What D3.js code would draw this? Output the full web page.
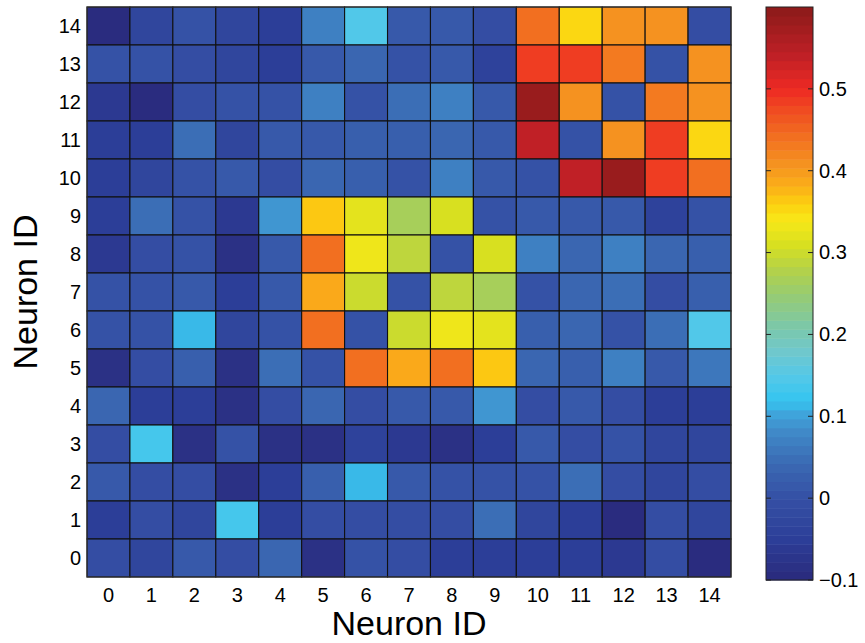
<!DOCTYPE html>
<html><head><meta charset="utf-8">
<script src="https://cdn.jsdelivr.net/npm/d3@7/dist/d3.min.js"></script>
<style>body{margin:0;background:#fff}svg{display:block}text{font-family:"Liberation Sans",Arial,sans-serif;fill:#000}</style>
</head><body><svg id="c" width="865" height="643"></svg>
<script>
const neuronIds = [0,1,2,3,4,5,6,7,8,9,10,11,12,13,14];
// rows listed from neuron 14 (top) down to neuron 0 (bottom); columns 0..14
const row14 = [-0.09,-0.03,0.00,-0.03,-0.05,0.07,0.15,0.01,0.02,-0.01,0.44,0.35,0.41,0.41,-0.01];
const row13 = [0.00,0.00,-0.01,-0.03,-0.05,0.01,0.04,0.00,0.02,-0.04,0.49,0.49,0.43,0.00,0.41];
const row12 = [-0.06,-0.09,-0.01,0.00,0.00,0.07,0.00,0.05,0.07,0.01,0.58,0.41,0.00,0.43,0.41];
const row11 = [-0.05,-0.05,0.05,-0.03,0.01,0.02,0.03,0.03,0.04,0.01,0.54,0.00,0.41,0.49,0.35];
const row10 = [-0.05,-0.03,0.00,0.01,-0.01,0.04,0.03,0.00,0.07,0.01,0.00,0.54,0.58,0.49,0.44];
const row9  = [-0.05,0.05,0.00,-0.06,0.09,0.37,0.32,0.27,0.31,0.00,0.01,0.01,0.01,-0.04,0.00];
const row8  = [-0.06,-0.01,0.00,-0.08,0.01,0.44,0.33,0.29,0.00,0.31,0.07,0.04,0.07,0.04,0.03];
const row7  = [0.00,0.00,0.01,-0.05,0.01,0.39,0.30,0.00,0.29,0.27,0.00,0.04,0.05,-0.01,0.03];
const row6  = [0.00,0.00,0.11,-0.03,0.00,0.44,0.00,0.30,0.33,0.32,0.03,0.04,0.00,0.05,0.15];
const row5  = [-0.08,-0.01,0.03,-0.08,0.05,0.00,0.44,0.39,0.44,0.37,0.04,0.03,0.07,0.02,0.06];
const row4  = [0.04,-0.05,-0.05,-0.08,-0.01,0.04,-0.01,0.01,0.02,0.09,-0.01,0.01,-0.01,-0.05,-0.05];
const row3  = [-0.01,0.13,-0.08,0.00,-0.08,-0.08,-0.04,-0.06,-0.08,-0.05,0.01,-0.01,0.00,-0.03,-0.03];
const row2  = [0.01,-0.01,-0.01,-0.08,-0.05,0.03,0.11,0.01,0.00,0.00,0.00,0.05,-0.01,-0.03,-0.01];
const row1  = [-0.05,-0.01,-0.03,0.13,-0.05,-0.01,-0.01,-0.01,-0.01,0.05,-0.03,-0.05,-0.09,-0.01,-0.03];
const row0  = [-0.01,-0.03,0.02,-0.01,0.04,-0.08,0.00,-0.01,-0.05,-0.05,-0.05,-0.05,-0.06,-0.01,-0.09];
const rowsTopDown = [row14,row13,row12,row11,row10,row9,row8,row7,row6,row5,row4,row3,row2,row1,row0];
const colorbarTicks = [-0.1,0,0.1,0.2,0.3,0.4,0.5];
const valueDomain = [-0.1, 0.6];
const stopValues = [-0.1,-0.05,0.0,0.04,0.08,0.1,0.12,0.15,0.18,0.21,0.25,0.28,0.31,0.34,0.36,0.38,0.41,0.44,0.47,0.5,0.54,0.6];
const stopColors = ["#2a2a7c","#2c3e98","#3550a5","#3a68b2","#4088c8","#40a0d8","#35c5f0","#55c8e8","#70c8cc","#7cc8a8","#98cc70","#b4d248","#d8e020","#f8e818","#fcd010","#fbb018","#f59020","#f27020","#f05020","#ee2a24","#c02026","#8b1a1a"];

const nLevels = 64;
const interp = d3.scaleLinear().domain(stopValues).range(stopColors).interpolate(d3.interpolateRgb).clamp(true);
const levelW = (valueDomain[1]-valueDomain[0])/nLevels;
function colorOf(v){
  let k = Math.floor((v-valueDomain[0])/levelW);
  k = Math.max(0, Math.min(nLevels-1, k));
  return interp(valueDomain[0] + (k+0.5)*levelW);
}

const svg = d3.select("#c");
const L = 87, R = 731, T = 7, B = 577;
const x = d3.scaleBand().domain(neuronIds).range([L, R]).padding(0);
const y = d3.scaleBand().domain(neuronIds.slice().reverse()).range([T, B]).padding(0);

const cells = [];
rowsTopDown.forEach((row, ri) => {
  const rid = 14 - ri;
  row.forEach((v, ci) => cells.push({r: rid, c: neuronIds[ci], v}));
});

svg.append("g").selectAll("rect").data(cells).join("rect")
  .attr("x", d => x(d.c)).attr("y", d => y(d.r))
  .attr("width", x.bandwidth()).attr("height", y.bandwidth())
  .attr("fill", d => colorOf(d.v))
  .attr("stroke", "#111").attr("stroke-width", 1.1);

svg.append("rect").attr("x", L).attr("y", T).attr("width", R-L).attr("height", B-T)
  .attr("fill", "none").attr("stroke", "#333").attr("stroke-width", 1);

// x axis
const xAxis = d3.axisBottom(x).tickSize(0).tickPadding(0);
const gx = svg.append("g").attr("transform", `translate(0,${B})`).call(xAxis);
gx.select(".domain").remove();
gx.selectAll("text").attr("font-size", 20).attr("font-family", "Liberation Sans, Arial, sans-serif").attr("fill", "#000").attr("dy", null).attr("y", 25);

const yAxis = d3.axisLeft(y).tickSize(0).tickPadding(0);
const gy = svg.append("g").attr("transform", `translate(${L},0)`).call(yAxis);
gy.select(".domain").remove();
gy.selectAll("text").attr("font-size", 20).attr("font-family", "Liberation Sans, Arial, sans-serif").attr("fill", "#000").attr("x", -6).attr("dy", "0.35em");

svg.append("text").attr("x", (L+R)/2).attr("y", 635).attr("text-anchor", "middle").attr("font-size", 34).text("Neuron ID");
svg.append("text").attr("transform", `translate(37,${(T+B)/2}) rotate(-90)`).attr("text-anchor", "middle").attr("font-size", 34).text("Neuron ID");

// colorbar
const cbL = 766, cbR = 813, cbT = 7, cbB = 580;
const cy = d3.scaleLinear().domain(valueDomain).range([cbB, cbT]);
const levels = d3.range(nLevels).map(k => valueDomain[0] + k*levelW);
svg.append("g").selectAll("rect").data(levels).join("rect")
  .attr("x", cbL).attr("width", cbR-cbL)
  .attr("y", d => cy(d+levelW)).attr("height", d => cy(d)-cy(d+levelW)+0.5)
  .attr("fill", d => colorOf(d + levelW/2));
svg.append("rect").attr("x", cbL).attr("y", cbT).attr("width", cbR-cbL).attr("height", cbB-cbT)
  .attr("fill", "none").attr("stroke", "#222").attr("stroke-width", 1);
const cAxis = d3.axisRight(cy).tickValues(colorbarTicks).tickSize(0).tickPadding(0).tickFormat(d => d < 0 ? "\u22120.1" : d3.format("")(Math.round(d*10)/10));
const gc = svg.append("g").attr("transform", `translate(${cbR},0)`).call(cAxis);
gc.select(".domain").remove();
gc.selectAll("text").attr("font-size", 20).attr("font-family", "Liberation Sans, Arial, sans-serif").attr("fill", "#000").attr("x", 6);
const tg = svg.append("g");
colorbarTicks.forEach(t => {
  tg.append("line").attr("x1", cbL).attr("x2", cbL+5).attr("y1", cy(t)).attr("y2", cy(t)).attr("stroke", "#222");
  tg.append("line").attr("x1", cbR-5).attr("x2", cbR).attr("y1", cy(t)).attr("y2", cy(t)).attr("stroke", "#222");
});
</script></body></html>
